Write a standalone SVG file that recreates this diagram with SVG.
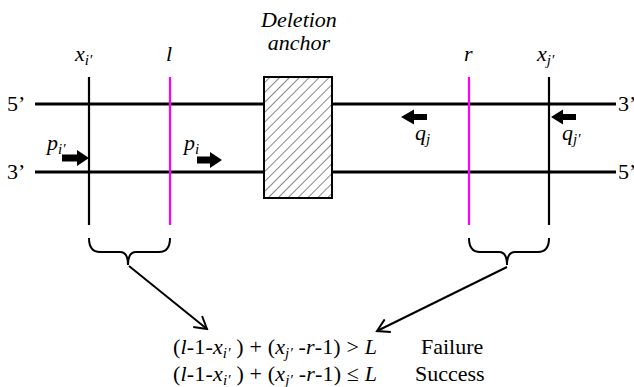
<svg xmlns="http://www.w3.org/2000/svg" width="634" height="387" viewBox="0 0 634 387">
<style>
.t{font-family:"Liberation Serif","Times New Roman",serif;font-size:22px;fill:#000}
.i{font-style:italic}
.s{font-size:15px}
.strand{stroke:#000;stroke-width:3.2;fill:none}
.vk{stroke:#000;stroke-width:2.2}
.vm{stroke:#ff00ff;stroke-width:2.2}
.br{stroke:#000;stroke-width:2;fill:none}
.ln{stroke:#000;stroke-width:2;fill:none}
</style>
<defs>
<pattern id="hatch" patternUnits="userSpaceOnUse" width="7" height="7" patternTransform="rotate(45)">
<rect width="7" height="7" fill="#fff"/>
<line x1="0" y1="0" x2="0" y2="7" stroke="#888" stroke-width="2"/>
</pattern>
<marker id="ah" markerWidth="16" markerHeight="16" refX="14" refY="8" orient="auto" markerUnits="userSpaceOnUse">
<path d="M2,1 L14,8 L2,15" fill="none" stroke="#000" stroke-width="2"/>
</marker>
</defs>
<g id="strands">
<line class="strand" x1="35" y1="104" x2="264" y2="104"/>
<line class="strand" x1="332" y1="104" x2="616" y2="104"/>
<line class="strand" x1="35" y1="172" x2="264" y2="172"/>
<line class="strand" x1="332" y1="172" x2="616" y2="172"/>
<text class="t" x="7" y="111">5’</text>
<text class="t" x="7" y="179">3’</text>
<text class="t" x="618" y="111">3’</text>
<text class="t" x="618" y="179">5’</text>
</g>
<g id="anchor">
<rect x="264" y="77" width="68" height="121" fill="url(#hatch)" stroke="#000" stroke-width="2"/>
<text class="t i" x="299" y="27" text-anchor="middle">Deletion</text>
<text class="t i" x="299" y="50" text-anchor="middle">anchor</text>
</g>
<g id="xi">
<line class="vk" x1="89" y1="77" x2="89" y2="225"/>
<text class="t i" x="75" y="61">x<tspan class="s" dy="4">i′</tspan></text>
</g>
<g id="l">
<line class="vm" x1="170" y1="77" x2="170" y2="225"/>
<text class="t i" x="166" y="61">l</text>
</g>
<g id="r">
<line class="vm" x1="469" y1="77" x2="469" y2="225"/>
<text class="t i" x="464" y="61">r</text>
</g>
<g id="xj">
<line class="vk" x1="549" y1="77" x2="549" y2="225"/>
<text class="t i" x="537" y="61">x<tspan class="s" dy="4">j′</tspan></text>
</g>
<g id="pi1">
<path d="M62,154.5 H77 V150 L89,158 L77,166 V161.5 H62 Z" fill="#000"/>
<text class="t i" x="47" y="150">p<tspan class="s" dy="4">i′</tspan></text>
</g>
<g id="pi">
<path d="M197,156.5 H210 V152 L222,160 L210,168 V163.5 H197 Z" fill="#000"/>
<text class="t i" x="184" y="150">p<tspan class="s" dy="4">i</tspan></text>
</g>
<g id="qj">
<path d="M427,114 H414 V109.5 L401,117 L414,124.5 V120 H427 Z" fill="#000"/>
<text class="t i" x="415" y="140">q<tspan class="s" dy="4">j</tspan></text>
</g>
<g id="qj1">
<path d="M576,114 H563 V109.5 L551,117 L563,124.5 V120 H576 Z" fill="#000"/>
<text class="t i" x="562" y="140">q<tspan class="s" dy="4">j′</tspan></text>
</g>
<g id="braces">
<path class="br" d="M89,238 Q89,252 100,252 H120 Q128,252 128,265 Q128,252 136,252 H159 Q170,252 170,238"/>
<path class="br" d="M469,238 Q469,252 480,252 H499 Q507,252 507,265 Q507,252 515,252 H538 Q549,252 549,238"/>
</g>
<g id="connectors">
<line class="ln" x1="129" y1="266" x2="207" y2="329" marker-end="url(#ah)"/>
<line class="ln" x1="507" y1="267" x2="377" y2="331" marker-end="url(#ah)"/>
</g>
<g id="formula">
<text class="t" x="173" y="354" textLength="204" lengthAdjust="spacing">(<tspan class="i">l</tspan>-1-<tspan class="i">x</tspan><tspan class="s i" dy="4">i′</tspan><tspan dy="-4"> ) + (</tspan><tspan class="i">x</tspan><tspan class="s i" dy="4">j′</tspan><tspan dy="-4"> -</tspan><tspan class="i">r</tspan>-1) &gt; <tspan class="i">L</tspan></text>
<text class="t" x="173" y="381" textLength="204" lengthAdjust="spacing">(<tspan class="i">l</tspan>-1-<tspan class="i">x</tspan><tspan class="s i" dy="4">i′</tspan><tspan dy="-4"> ) + (</tspan><tspan class="i">x</tspan><tspan class="s i" dy="4">j′</tspan><tspan dy="-4"> -</tspan><tspan class="i">r</tspan>-1) ≤ <tspan class="i">L</tspan></text>
<text class="t" x="421" y="354">Failure</text>
<text class="t" x="415" y="381">Success</text>
</g>
</svg>
